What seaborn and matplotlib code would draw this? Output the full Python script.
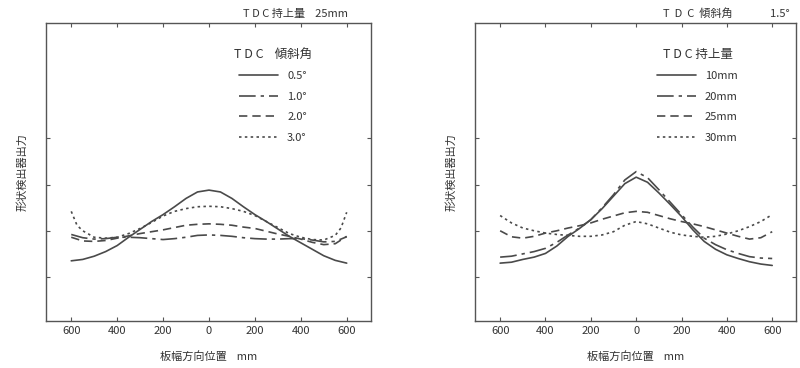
import pandas as pd
import seaborn as sns
from matplotlib import pyplot as plt

x_pos = [-600, -550, -500, -450, -400, -350, -300, -250, -200, -150, -100, -50, 0,
         50, 100, 150, 200, 250, 300, 350, 400, 450, 500, 550, 600]
x_edge = [-600, -575] + x_pos[1:-1] + [575, 600]

# panel 1: TDC lift 25 mm, varying tilt angle
tilt_labels = ['0.5°', '1.0°', '2.0°', '3.0°']
tilt_05 = [1.35, 1.38, 1.45, 1.55, 1.68, 1.86, 2.03, 2.20, 2.35, 2.52, 2.70, 2.84, 2.88,
           2.84, 2.70, 2.52, 2.35, 2.20, 2.04, 1.88, 1.74, 1.60, 1.46, 1.36, 1.30]
tilt_10 = [1.92, 1.85, 1.82, 1.83, 1.86, 1.86, 1.85, 1.83, 1.81, 1.83, 1.86, 1.90, 1.91,
           1.90, 1.88, 1.85, 1.83, 1.82, 1.82, 1.83, 1.83, 1.80, 1.76, 1.77, 1.87]
tilt_20 = [1.86, 1.78, 1.77, 1.79, 1.84, 1.89, 1.94, 1.98, 2.02, 2.07, 2.12, 2.14, 2.15,
           2.14, 2.12, 2.08, 2.05, 1.99, 1.93, 1.88, 1.82, 1.75, 1.70, 1.72, 1.88]
tilt_30 = [2.42, 2.12, 2.00, 1.86, 1.84, 1.86, 1.94, 2.05, 2.18, 2.32, 2.42, 2.48, 2.52, 2.53,
           2.52, 2.48, 2.42, 2.33, 2.20, 2.07, 1.94, 1.86, 1.81, 1.80, 1.90, 2.06, 2.40]

# panel 2: TDC tilt 1.5 deg, varying lift
lift_labels = ['10mm', '20mm', '25mm', '30mm']
lift_10 = [1.30, 1.32, 1.38, 1.43, 1.51, 1.67, 1.88, 2.05, 2.24, 2.48, 2.75, 3.02, 3.16,
           3.05, 2.82, 2.57, 2.31, 2.02, 1.77, 1.60, 1.48, 1.40, 1.33, 1.28, 1.25]
lift_20 = [1.43, 1.45, 1.50, 1.55, 1.62, 1.75, 1.91, 2.06, 2.24, 2.50, 2.78, 3.10, 3.28,
           3.15, 2.89, 2.62, 2.35, 2.08, 1.84, 1.70, 1.59, 1.51, 1.44, 1.41, 1.40]
lift_25 = [2.00, 1.87, 1.84, 1.88, 1.95, 2.00, 2.06, 2.11, 2.17, 2.25, 2.32, 2.39, 2.42,
           2.40, 2.33, 2.26, 2.20, 2.15, 2.09, 2.02, 1.95, 1.88, 1.82, 1.85, 1.98]
lift_30 = [2.33, 2.17, 2.06, 2.00, 1.95, 1.92, 1.90, 1.88, 1.88, 1.91, 1.98, 2.12, 2.20,
           2.15, 2.06, 1.97, 1.91, 1.88, 1.86, 1.88, 1.93, 2.00, 2.09, 2.20, 2.35]

xticks = [-600, -400, -200, 0, 200, 400, 600]
yticks = [1, 2, 3, 4]

sns.set_style('white')
plt.rcParams['font.family'] = ['Noto Sans CJK JP', 'DejaVu Sans']

styles = ['-', (0, (10, 3, 2, 3)), (0, (5, 3)), (0, (1.5, 2))]
color = '#4a4a4a'


def long_df(xs, series, labels):
    rows = []
    for x, ys, lab in zip(xs, series, labels):
        rows += [{'x': a, 'y': b, 'label': lab} for a, b in zip(x, ys)]
    return pd.DataFrame(rows)


def draw(ax, df, labels, legend_title, top_text, leg_x):
    for lab, ls in zip(labels, styles):
        sub = df[df.label == lab]
        sns.lineplot(data=sub, x='x', y='y', ax=ax, color=color, lw=1.2,
                     linestyle=ls, label=lab, sort=False)
    ax.set_xlim(-710, 705)
    ax.set_ylim(0.05, 6.5)
    ax.set_xticks(xticks)
    ax.set_xticklabels([str(abs(t)) for t in xticks], fontsize=8, color='#333333')
    ax.set_yticks(yticks)
    ax.set_yticklabels([])
    ax.tick_params(direction='in', length=3, color='#555555',
                   top=True, right=True, left=True, bottom=True)
    for sp in ax.spines.values():
        sp.set_color('#555555')
        sp.set_linewidth(1.0)
    ax.set_xlabel('板幅方向位置    mm', fontsize=8, color='#333333', labelpad=11)
    ax.set_ylabel('形状検出器出力', fontsize=8, color='#333333', labelpad=10)
    leg = ax.legend(title=legend_title, frameon=False, loc='upper right',
                    bbox_to_anchor=(leg_x, 0.95), fontsize=8, title_fontsize=9,
                    handlelength=3.5, labelspacing=0.95, alignment='center')
    for t in leg.get_texts():
        t.set_color('#333333')
    leg.get_title().set_color('#333333')
    return ax.text(0.93, 1.012, top_text, transform=ax.transAxes, ha='right',
                   va='bottom', fontsize=8, color='#333333')


fig = plt.figure(figsize=(8, 3.68), dpi=100)
ax1 = fig.add_axes([0.0575, 0.128, 0.406, 0.81])
ax2 = fig.add_axes([0.594, 0.128, 0.401, 0.81])

df1 = long_df([x_pos, x_pos, x_pos, x_edge], [tilt_05, tilt_10, tilt_20, tilt_30], tilt_labels)
df2 = long_df([x_pos] * 4, [lift_10, lift_20, lift_25, lift_30], lift_labels)

draw(ax1, df1, tilt_labels, 'T D C    傾斜角', 'T D C 持上量    25mm', 0.85)
t2 = draw(ax2, df2, lift_labels, 'T D C 持上量', 'T  D  C  傾斜角               1.5°', 0.85)
t2.set_x(0.98)

plt.savefig('out.png', dpi=100)
